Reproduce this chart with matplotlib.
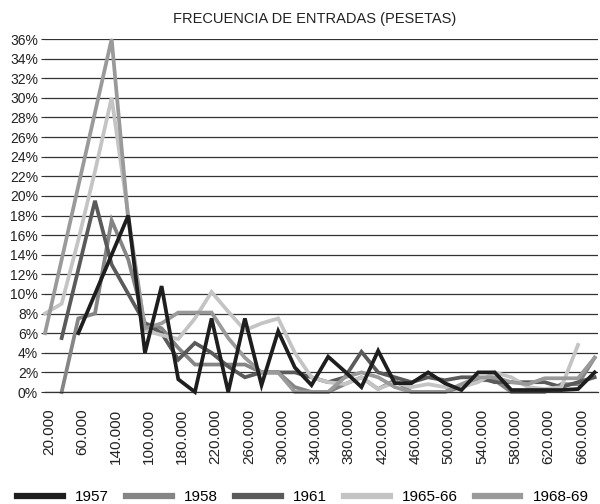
import numpy as np
import matplotlib
matplotlib.use("Agg")
import matplotlib.pyplot as plt
import matplotlib.transforms as mtransforms
from matplotlib.lines import Line2D

plt.rcParams['font.family'] = ['Liberation Sans', 'DejaVu Sans']

nan = np.nan
# Tick labels (every other category), as printed in the original
tick_labels = ["20.000", "60.000", "140.000", "100.000", "180.000", "220.000",
               "260.000", "300.000", "340.000", "380.000", "420.000", "460.000",
               "500.000", "540.000", "580.000", "620.000", "660.000"]
n_cat = 34

s1957 = [nan, nan, 6, 10, 14, 18, 4, 10.8, 1.3, 0, 7.5, 0, 7.5, 0.7, 6.2, 2.5, 0.7,
         3.6, 2.1, 0.5, 4.2, 0.9, 0.9, 2.0, 0.9, 0.2, 2.0, 2.0, 0.2, 0.2, 0.2, 0.2, 0.3, 2.0]
s1958 = [nan, 0, 7.5, 8, 17.5, 13.5, 7, 6.5, 4.5, 2.8, 2.8, 2.8, 2.8, 2.0, 2.0, 0.5, 0,
         0, 0.8, 1.5, 0.3, 1.2, 0, 0, 0, 0.5, 1.2, 1.2, 0, 0, 0, 0.8, 0.8, 3.5]
s1961 = [nan, 5.5, 12.5, 19.5, 13, 10, 7, 6, 3.3, 5, 4, 2.6, 1.5, 2.0, 2.0, 2.0, 1.5,
         1.0, 1.5, 4.1, 2.0, 1.5, 1.0, 1.5, 1.2, 1.5, 1.5, 1.0, 1.0, 1.0, 1.0, 0.5, 1.0, 1.5]
s1965 = [8, 9, 15.5, 22.5, 30, 18, 6.3, 5.8, 5.4, 7.5, 10.2, 8.2, 6.3, 7.0, 7.5, 4.0, 1.5,
         1.0, 0.8, 1.5, 0.3, 1.0, 0.5, 0.8, 0.5, 0.5, 1.0, 2.0, 1.5, 0.5, 0.3, 0.5, 4.8, nan]
s1968 = [6, 13.5, 21, 28.5, 36, 17.5, 6.5, 7, 8.1, 8.1, 8.1, 5.5, 3.5, 2, 2, 0, 0,
         0, 1.5, 2.0, 1.5, 0.5, 0, 0, 0, 0.8, 1.5, 1.5, 1.0, 0.8, 1.4, 1.4, 1.4, 3.5]

series = [("1957", s1957, "#1e1e1e"),
          ("1958", s1958, "#858585"),
          ("1961", s1961, "#5a5a5a"),
          ("1965-66", s1965, "#c4c4c4"),
          ("1968-69", s1968, "#9a9a9a")]

fig = plt.figure(figsize=(6, 5.04), dpi=100)
ax = fig.add_axes([45/600, (504-392)/504, 553/600, (392-39)/504])

x = np.arange(n_cat)
for i, (name, vals, col) in enumerate(series):
    z = 5 if name == "1957" else 2 + i * 0.1
    ax.plot(x, np.array(vals, dtype=float), color=col, lw=2.7, zorder=z,
            solid_joinstyle='miter', clip_on=False)

ax.set_xlim(0, 33.2)
ax.set_ylim(0, 36)
ax.set_yticks(np.arange(0, 37, 2))
ax.set_yticklabels([f"{v}%" for v in range(0, 37, 2)], fontsize=10, color="#222222")
ax.yaxis.grid(True, color="#333333", lw=0.9)
ax.set_axisbelow(True)
ax.set_xticks(np.arange(0, 33, 2))
ax.set_xticklabels(tick_labels, rotation=90, fontsize=11, color="#222222")
ax.tick_params(axis='x', length=0, pad=12)
ax.tick_params(axis='y', length=3, width=0.8, color="#333333", pad=2)
offset = mtransforms.ScaledTranslation(4/100, 0, fig.dpi_scale_trans)
for lab in ax.get_xticklabels():
    lab.set_transform(lab.get_transform() + offset)
for sp in ["top", "right", "left"]:
    ax.spines[sp].set_visible(False)
ax.spines["bottom"].set_color("#333333")
ax.spines["bottom"].set_linewidth(0.9)

fig.text(0.525, 0.963, "FRECUENCIA DE ENTRADAS (PESETAS)", ha="center", va="center",
         fontsize=10.5, color="#222222")

handles = [Line2D([0], [0], color=col, lw=4.5) for _, _, col in series]
fig.legend(handles, [s[0] for s in series], loc="center", bbox_to_anchor=(0.505, 0.014),
           ncol=5, frameon=False, fontsize=11, handlelength=3.0, columnspacing=1.1,
           handletextpad=0.8, borderaxespad=0, borderpad=0)

fig.savefig("out.png", dpi=100)
